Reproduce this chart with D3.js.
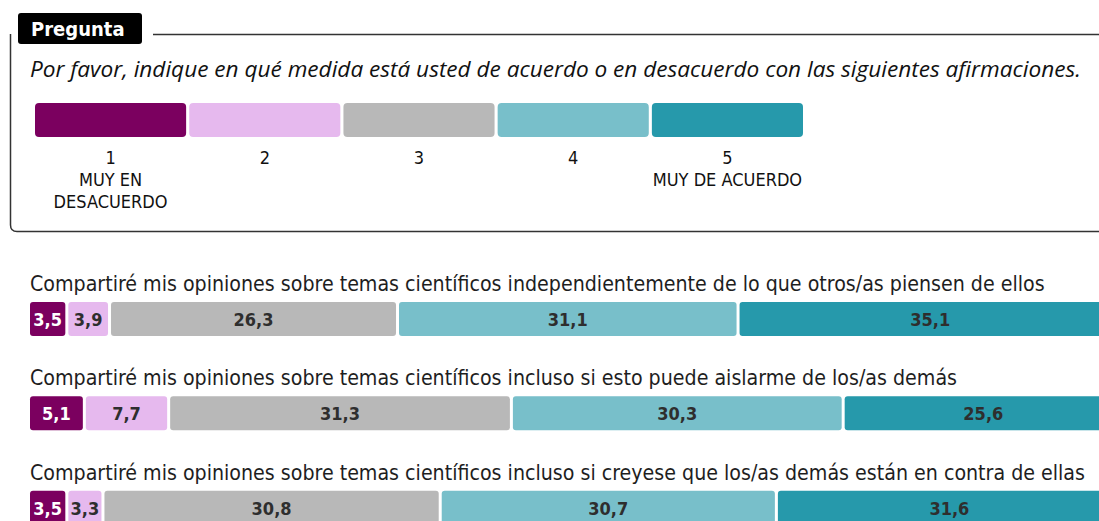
<!DOCTYPE html>
<html>
<head>
<meta charset="utf-8">
<script src="https://cdn.jsdelivr.net/npm/d3@7"></script>
<style>
  body { margin: 0; background: #fff; }
  svg { display: block; }
</style>
</head>
<body>
<svg id="chart" width="1099" height="521"></svg>
<script>
  "use strict";

  // datos
  var aLevels = ["1", "2", "3", "4", "5"];
  var aLevelNotes = [["MUY EN", "DESACUERDO"], [], [], [], ["MUY DE ACUERDO"]];
  var aColors = ["#7b005f", "#e6b9ee", "#b8b8b8", "#78bfca", "#2699ab"];
  var aQuestions = [
    "Compartiré mis opiniones sobre temas científicos independientemente de lo que otros/as piensen de ellos",
    "Compartiré mis opiniones sobre temas científicos incluso si esto puede aislarme de los/as demás",
    "Compartiré mis opiniones sobre temas científicos incluso si creyese que los/as demás están en contra de ellas"
  ];
  var aRow1 = [3.5, 3.9, 26.3, 31.1, 35.1];
  var aRow2 = [5.1, 7.7, 31.3, 30.3, 25.6];
  var aRow3 = [3.5, 3.3, 30.8, 30.7, 31.6];

  var svg = d3.select("#chart");
  var sFont = "'DejaVu Sans Condensed', 'DejaVu Sans', sans-serif";

  // marco de la pregunta
  svg.append("path")
    .attr("d", "M153,34.5 H1099 M10.5,34 V225 Q10.5,231.5 17,231.5 H1099")
    .attr("fill", "none")
    .attr("stroke", "#333")
    .attr("stroke-width", 1.5);

  svg.append("rect")
    .attr("x", 18).attr("y", 13)
    .attr("width", 124).attr("height", 31)
    .attr("rx", 3)
    .attr("fill", "#000");

  svg.append("text")
    .attr("x", 31).attr("y", 36)
    .attr("fill", "#fff")
    .style("font", "bold 20px " + sFont)
    .text("Pregunta");

  svg.append("text")
    .attr("x", 30).attr("y", 77)
    .attr("fill", "#111")
    .style("font", "italic 22.6px 'Open Sans', sans-serif")
    .text("Por favor, indique en qué medida está usted de acuerdo o en desacuerdo con las siguientes afirmaciones.");

  // leyenda
  var legendScale = d3.scaleBand()
    .domain(aLevels)
    .range([35, 803])
    .paddingInner(0.02);

  var legend = svg.append("g").selectAll("g")
    .data(aLevels)
    .enter()
    .append("g");

  legend.append("rect")
    .attr("x", d => legendScale(d))
    .attr("y", 103)
    .attr("width", legendScale.bandwidth())
    .attr("height", 34)
    .attr("rx", 4)
    .attr("fill", (d, i) => aColors[i]);

  legend.append("text")
    .attr("x", d => legendScale(d) + legendScale.bandwidth() / 2)
    .attr("y", 164)
    .attr("text-anchor", "middle")
    .attr("fill", "#111")
    .style("font", "18px " + sFont)
    .selectAll("tspan")
    .data((d, i) => [d].concat(aLevelNotes[i]))
    .enter()
    .append("tspan")
    .attr("x", function() { return this.parentNode.getAttribute("x"); })
    .attr("dy", (d, i) => (i === 0 ? 0 : 22))
    .text(d => d);

  // barras apiladas
  var aRows = [aRow1, aRow2, aRow3];
  var xScale = d3.scaleLinear().domain([0, 100]).range([30, 1125]);
  var yScale = d3.scaleBand()
    .domain(d3.range(aRows.length))
    .range([262, 545])
    .paddingInner(0);

  var rows = svg.append("g").selectAll("g")
    .data(aRows)
    .enter()
    .append("g")
    .attr("transform", (d, i) => "translate(0," + yScale(i) + ")");

  rows.append("text")
    .attr("x", 30)
    .attr("y", 29)
    .attr("fill", "#1e1e1e")
    .style("font", "21.2px " + sFont)
    .text((d, i) => aQuestions[i]);

  var segs = rows.selectAll("g.seg")
    .data(row => {
      var acc = 0;
      return row.map((v, i) => {
        var s = { start: acc, value: v, idx: i };
        acc += v;
        return s;
      });
    })
    .enter()
    .append("g")
    .classed("seg", true);

  segs.append("rect")
    .attr("x", d => xScale(d.start))
    .attr("y", 40)
    .attr("width", d => Math.max(1, xScale(d.start + d.value) - xScale(d.start) - 3))
    .attr("height", 34)
    .attr("rx", 3)
    .attr("fill", d => aColors[d.idx]);

  segs.append("text")
    .attr("x", d => (xScale(d.start) + xScale(d.start + d.value) - 3) / 2)
    .attr("y", 64)
    .attr("text-anchor", "middle")
    .attr("fill", d => (d.idx === 0 ? "#fff" : "#2e2e2e"))
    .style("font", "bold 18px " + sFont)
    .text(d => d3.format(".1f")(d.value).replace(".", ","));
</script>
</body>
</html>
